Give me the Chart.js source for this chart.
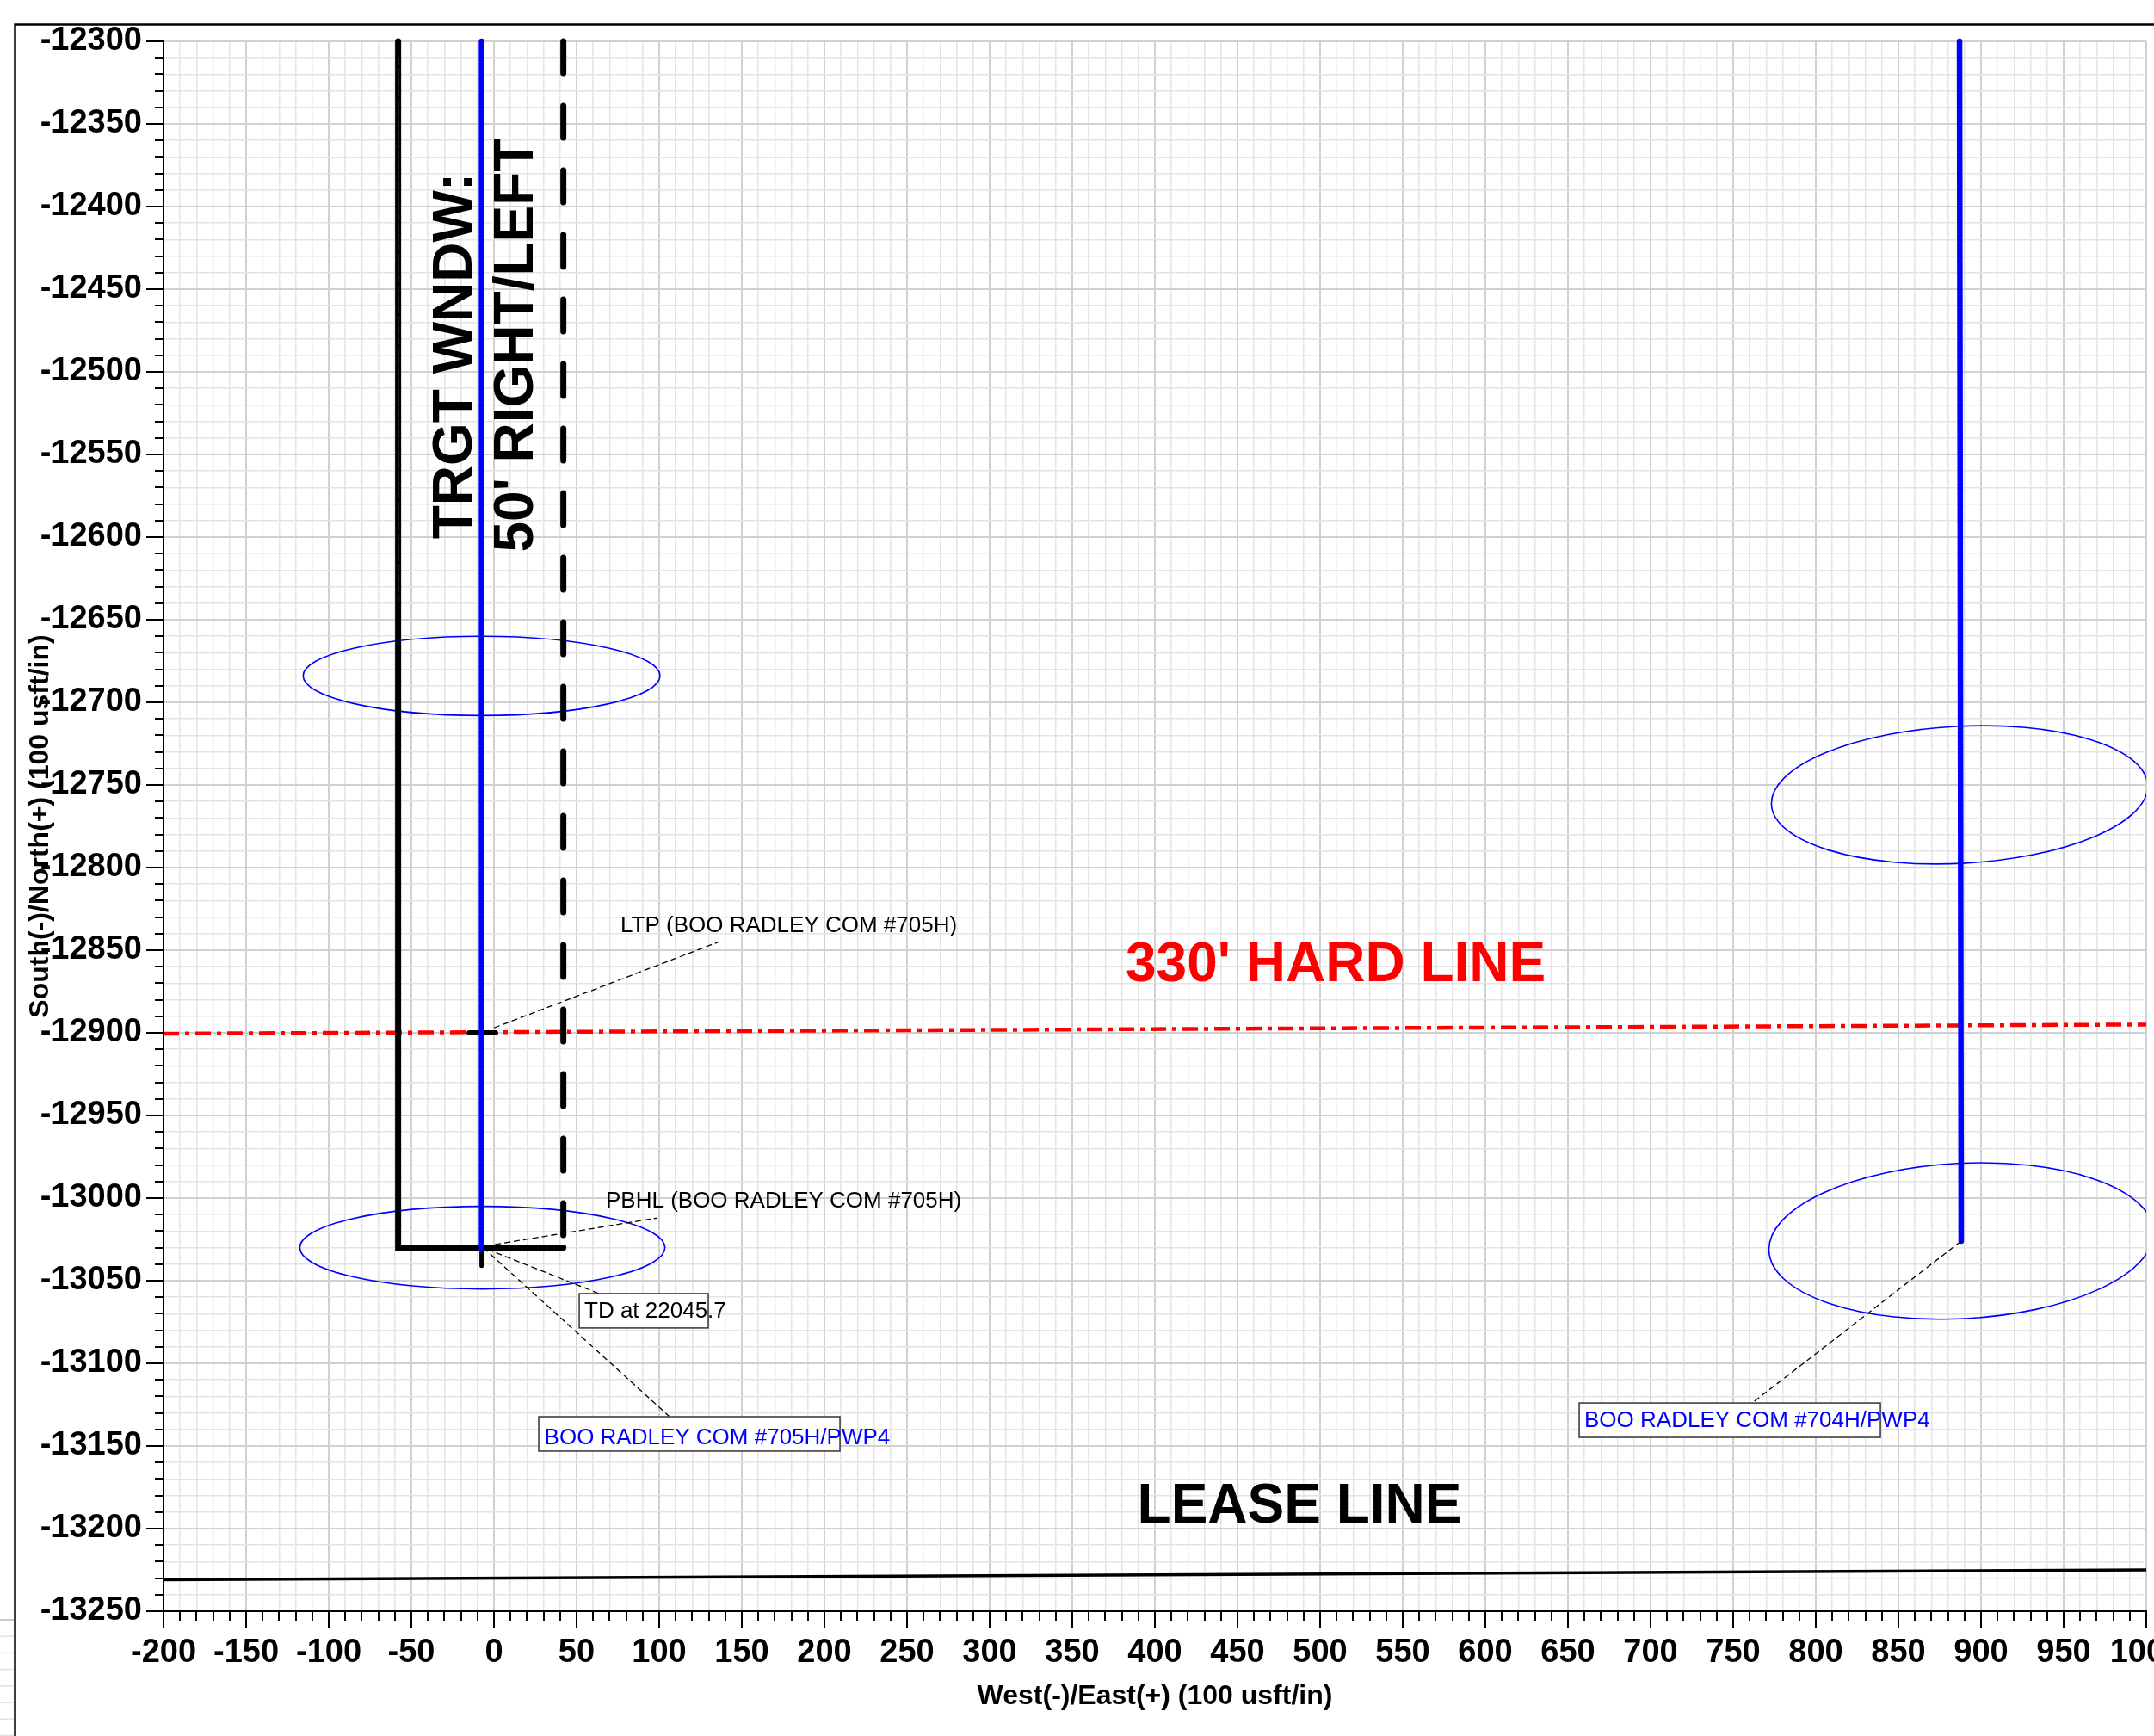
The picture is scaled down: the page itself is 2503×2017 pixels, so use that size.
<!DOCTYPE html>
<html><head><meta charset="utf-8">
<script src="https://cdn.jsdelivr.net/npm/chart.js@4.4.1/dist/chart.umd.min.js"></script>
<style>html,body{margin:0;padding:0;background:#fff;overflow:hidden}canvas{display:block}</style>
</head><body>
<canvas id="c" width="2503" height="2017"></canvas>
<script>
// ---------- DATA ----------
const xRange = [-200, 1000];
const yRange = [-13250, -12300];
const majorStep = 50;
const minorStep = 10;
const xTitle = 'West(-)/East(+) (100 usft/in)';
const yTitle = 'South(-)/North(+) (100 usft/in)';

// Target window (#705H) boundaries
const trgtLeftX = [-58, -58, 42];
const trgtLeftY = [-12300, -13030, -13030];
const trgtRightX = [42, 42];
const trgtRightY = [-12300, -13030];
// Well plan BOO RADLEY COM #705H/PWP4
const w705X = [-7.5, -7.5];
const w705Y = [-12300, -13031];
// Well plan BOO RADLEY COM #704H/PWP4
const w704X = [887, 888];
const w704Y = [-12300, -13026];
// LTP target marker
const ltpX = [-15, 1];
const ltpY = [-12900, -12900];
// PBHL marker
const pbhlX = [-7.5, -7.5];
const pbhlY = [-13030, -13041];
// 330' hard line
const hardX = [-200, 1000];
const hardY = [-12900.5, -12895];
// Lease line
const leaseX = [-200, 1000];
const leaseY = [-13231, -13225];
// Uncertainty ellipses
const ellCX = [-7.5, -7, 887, 888];
const ellCY = [-12684, -13030, -12756, -13026];
const ellA = [108, 110.5, 114, 116.5];
const ellB = [24, 25, 41.5, 47];
const ellRotDeg = [0, 0, 3, 3];
// Leader lines (start at well, end at label)
const leadX = [[0, 136], [-5, 99], [-4, 64], [-6.5, 106], [888, 761.5]];
const leadY = [[-12897, -12845], [-13029, -13012], [-13031, -13058], [-13030, -13132], [-13026, -13124]];

// ---------- ANNOTATION LAYOUT (data coords) ----------
const notes = [
  { text: 'LTP (BOO RADLEY COM #705H)', x: 76.6, y: -12839, color: '#000' },
  { text: 'PBHL (BOO RADLEY COM #705H)', x: 67.7, y: -13005.7, color: '#000' },
  { text: 'TD at 22045.7', x: 54.7, y: -13072.4, color: '#000', box: [51.6, -13057.8, 129.7, -13078.6] },
  { text: 'BOO RADLEY COM #705H/PWP4', x: 30.5, y: -13149, color: '#0000ff', box: [27.1, -13132.3, 209.4, -13153.1] },
  { text: 'BOO RADLEY COM #704H/PWP4', x: 659.9, y: -13138.5, color: '#0000ff', box: [656.8, -13124, 839.1, -13144.8] }
];
const bigLabels = [
  { text: "330' HARD LINE", x: 509.4, y: -12868.75, color: '#ff0000', rot: 0 },
  { text: 'LEASE LINE', x: 487.5, y: -13196.4, color: '#000', rot: 0 },
  { text: 'TRGT WNDW:', x: -13.5, y: -12490.4, color: '#000', rot: -90 },
  { text: "50' RIGHT/LEFT", x: 23.4, y: -12483.9, color: '#000', rot: -90 }
];

const FONT = "'Liberation Sans', Arial, Helvetica, sans-serif";
const pts = (xs, ys) => xs.map((v, i) => ({ x: v, y: ys[i] }));

function lineDs(xs, ys, color, width, extra) {
  return Object.assign({
    data: pts(xs, ys), showLine: true, borderColor: color, backgroundColor: color,
    borderWidth: width, pointRadius: 0, pointHoverRadius: 0, fill: false, tension: 0,
    borderCapStyle: 'round', borderJoinStyle: 'miter', clip: 8
  }, extra || {});
}

const datasets = [];
leadX.forEach((lx, i) => datasets.push(lineDs(lx, leadY[i], '#000', 1.3, { borderDash: [7, 4], borderCapStyle: 'butt', order: 0 })));
datasets.push(lineDs(w705X, w705Y, '#0000ff', 6.5, { order: 1 }));
datasets.push(lineDs(w704X, w704Y, '#0000ff', 6.5, { order: 1 }));
datasets.push(lineDs(ltpX, ltpY, '#000', 6, { order: 2 }));
datasets.push(lineDs(pbhlX, pbhlY, '#000', 5, { order: 2 }));
datasets.push(lineDs([-58, -58], [-12310, -12640], '#ffffff', 1, { borderDash: [9, 3], borderCapStyle: 'butt', order: 3 }));
datasets.push(lineDs(trgtLeftX, trgtLeftY, '#000', 7, { order: 4 }));
datasets.push(lineDs(trgtRightX, trgtRightY, '#000', 7, { borderDash: [37, 38], order: 4 }));
datasets.push(lineDs(hardX, hardY, '#ff0000', 4.5, { borderDash: [18, 7, 5, 7], borderCapStyle: 'butt', order: 6, clip: 0 }));
datasets.push(lineDs(leaseX, leaseY, '#000', 3.5, { borderCapStyle: 'butt', order: 6, clip: 0 }));

const isMajor = v => Math.abs(Math.round(v)) % majorStep === 0;

const framePlugin = {
  id: 'frame',
  beforeDraw(chart) {
    const ctx = chart.ctx;
    ctx.save();
    ctx.fillStyle = '#fff';
    ctx.fillRect(0, 0, chart.width, chart.height);
    // fragment of a neighbouring grid sheet at bottom-left
    ctx.lineWidth = 1.5;
    for (let i = 0; i < 8; i++) {
      ctx.strokeStyle = i === 0 ? '#bbbbbb' : '#e2e2e2';
      ctx.beginPath(); ctx.moveTo(0, 1882 + i * 19.2); ctx.lineTo(16, 1882 + i * 19.2); ctx.stroke();
    }
    ctx.strokeStyle = '#000';
    ctx.lineWidth = 2.5;
    ctx.beginPath();
    ctx.moveTo(2503, 28.5); ctx.lineTo(17.5, 28.5); ctx.lineTo(17.5, 2017);
    ctx.stroke();
    ctx.restore();
  }
};

const ellipsePlugin = {
  id: 'ellipses',
  beforeDatasetsDraw(chart) {
    const { ctx, chartArea: ca, scales: { x, y } } = chart;
    ctx.save();
    ctx.beginPath(); ctx.rect(ca.left, ca.top, ca.right - ca.left, ca.bottom - ca.top); ctx.clip();
    ctx.strokeStyle = '#0000ff';
    ctx.lineWidth = 1.6;
    ellCX.forEach((cx, i) => {
      const px = x.getPixelForValue(cx), py = y.getPixelForValue(ellCY[i]);
      const rx = Math.abs(x.getPixelForValue(cx + ellA[i]) - px);
      const ry = Math.abs(y.getPixelForValue(ellCY[i] + ellB[i]) - py);
      ctx.beginPath();
      ctx.ellipse(px, py, rx, ry, -ellRotDeg[i] * Math.PI / 180, 0, Math.PI * 2);
      ctx.stroke();
    });
    ctx.restore();
  }
};

const tickPlugin = {
  id: 'tickMarks',
  afterDraw(chart) {
    const { ctx, chartArea: ca, scales: { x, y } } = chart;
    ctx.save();
    ctx.strokeStyle = '#000';
    ctx.lineWidth = 2;
    ctx.beginPath();
    x.ticks.forEach(t => {
      const p = Math.round(x.getPixelForValue(t.value));
      ctx.moveTo(p, ca.bottom); ctx.lineTo(p, ca.bottom + (isMajor(t.value) ? 19 : 11));
    });
    y.ticks.forEach(t => {
      const p = Math.round(y.getPixelForValue(t.value));
      ctx.moveTo(ca.left, p); ctx.lineTo(ca.left - (isMajor(t.value) ? 20 : 10), p);
    });
    ctx.stroke();
    ctx.restore();
  }
};

const labelPlugin = {
  id: 'labels',
  afterDatasetsDraw(chart) {
    const { ctx, scales: { x, y } } = chart;
    ctx.save();
    notes.forEach(n => {
      if (n.box) {
        const x0 = x.getPixelForValue(n.box[0]), y0 = y.getPixelForValue(n.box[1]);
        const x1 = x.getPixelForValue(n.box[2]), y1 = y.getPixelForValue(n.box[3]);
        ctx.fillStyle = '#fff';
        ctx.fillRect(x0, y0, x1 - x0, y1 - y0);
        ctx.strokeStyle = '#333';
        ctx.lineWidth = 1.5;
        ctx.strokeRect(x0, y0, x1 - x0, y1 - y0);
      }
      ctx.fillStyle = n.color;
      ctx.font = '26px ' + FONT;
      ctx.textAlign = 'left';
      ctx.textBaseline = 'alphabetic';
      ctx.fillText(n.text, x.getPixelForValue(n.x), y.getPixelForValue(n.y));
    });
    bigLabels.forEach(b => {
      const px = x.getPixelForValue(b.x), py = y.getPixelForValue(b.y);
      ctx.save();
      ctx.translate(px, py);
      ctx.rotate(b.rot * Math.PI / 180);
      ctx.fillStyle = b.color;
      ctx.font = 'bold 64px ' + FONT;
      ctx.textAlign = 'center';
      ctx.textBaseline = 'alphabetic';
      ctx.fillText(b.text, 0, 0);
      ctx.restore();
    });
    ctx.restore();
  }
};

const gridOpts = {
  color: c => (c.tick && isMajor(c.tick.value)) ? '#d0d0d0' : '#e4e4e4',
  lineWidth: c => (c.tick && isMajor(c.tick.value)) ? 2 : 1.5,
  drawTicks: false
};
const tickFont = { family: FONT, size: 38, weight: 'bold' };
const titleFont = { family: FONT, size: 32, weight: 'bold' };
const labelCb = v => isMajor(v) ? String(Math.round(v)) : '';

new Chart(document.getElementById('c'), {
  type: 'scatter',
  data: { datasets },
  options: {
    responsive: false,
    devicePixelRatio: 1,
    animation: false,
    events: [],
    layout: { padding: { left: 0, top: 48, right: 9, bottom: 0 }, autoPadding: false },
    plugins: { legend: { display: false }, tooltip: { enabled: false } },
    scales: {
      x: {
        type: 'linear', min: xRange[0], max: xRange[1],
        grid: gridOpts,
        border: { display: true, color: '#000', width: 2 },
        ticks: { stepSize: minorStep, autoSkip: false, maxRotation: 0, minRotation: 0, padding: 26, color: '#000', font: tickFont, callback: labelCb },
        title: { display: true, text: xTitle, color: '#000', font: titleFont, padding: { top: 0, bottom: 27 } },
        afterFit(s) { s.height = 145; s.paddingLeft = 0; s.paddingRight = 0; }
      },
      y: {
        type: 'linear', min: yRange[0], max: yRange[1],
        grid: gridOpts,
        border: { display: true, color: '#000', width: 2 },
        ticks: { stepSize: minorStep, autoSkip: false, padding: 25, color: '#000', font: tickFont, callback: labelCb },
        title: { display: true, text: yTitle, color: '#000', font: titleFont, padding: { top: 28, bottom: 0 } },
        afterFit(s) { s.width = 190; s.paddingTop = 0; s.paddingBottom = 0; }
      }
    }
  },
  plugins: [framePlugin, ellipsePlugin, tickPlugin, labelPlugin]
});
</script>
</body></html>
